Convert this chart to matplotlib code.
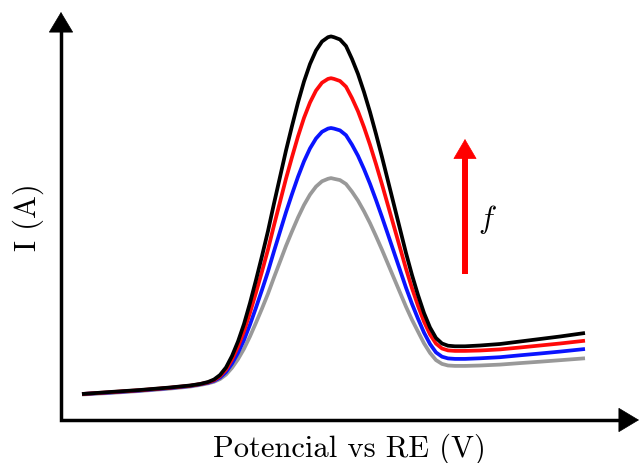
import matplotlib
matplotlib.use("Agg")
import matplotlib.pyplot as plt

plt.rcParams["mathtext.fontset"] = "cm"

# Applied potential (V) shared by all voltammograms
potential = [
    -0.400, -0.344, -0.284, -0.224, -0.184, -0.164, -0.148, -0.136, -0.124, -0.112,
    -0.100, -0.088, -0.076, -0.064, -0.052, -0.040, -0.028, -0.016, -0.004, 0.008,
    0.020, 0.032, 0.044, 0.056, 0.068, 0.080, 0.092, 0.098, 0.104, 0.116, 0.128,
    0.140, 0.152, 0.164, 0.176, 0.188, 0.200, 0.212, 0.224, 0.236, 0.248,
    0.260, 0.272, 0.284, 0.296, 0.308, 0.320, 0.332, 0.346, 0.366, 0.396,
    0.436, 0.476, 0.516, 0.556, 0.606,
]

# Current (arbitrary units), one series per frequency, lowest to highest
current_gray = [
    -0.5, 1.0, 3.0, 5.4, 7.4, 9.0, 10.6, 12.2, 14.9, 19.4,
    26.2, 34.8, 45.2, 57.6, 71.3, 85.5, 100.3, 116.6, 132.3, 148.1,
    162.6, 176.5, 189.0, 199.4, 207.4, 212.7, 215.2, 215.9, 215.2, 213.9, 210.0,
    202.3, 193.4, 182.7, 170.9, 157.8, 144.2, 130.0, 115.7, 101.5, 87.3,
    74.2, 62.4, 50.7, 41.1, 33.9, 30.1, 28.5, 28.1, 28.1, 28.5,
    29.4, 30.9, 32.3, 33.8, 35.7,
]
current_blue = [
    0.0, 1.5, 3.5, 6.0, 8.0, 9.7, 11.2, 13.1, 16.4, 21.9,
    30.4, 41.1, 54.0, 69.4, 86.4, 104.1, 122.5, 142.8, 162.3, 181.8,
    199.9, 217.2, 232.7, 245.6, 255.5, 262.2, 265.4, 266.0, 265.4, 263.6, 258.8,
    249.3, 238.2, 224.9, 210.2, 194.0, 177.0, 159.4, 141.7, 124.0, 106.3,
    90.1, 75.3, 61.4, 50.0, 41.6, 37.3, 35.6, 35.1, 35.1, 35.7,
    36.8, 38.7, 40.5, 42.4, 45.0,
]
current_red = [
    0.0, 1.8, 3.8, 6.3, 8.3, 9.9, 11.6, 13.8, 17.8, 24.4,
    34.5, 47.3, 62.7, 81.2, 101.4, 122.5, 144.5, 168.7, 192.0, 215.4,
    236.9, 257.6, 276.1, 291.5, 303.4, 311.3, 315.1, 315.8, 315.1, 313.0, 307.3,
    295.9, 282.7, 266.8, 249.2, 229.9, 209.6, 188.5, 167.4, 146.3, 125.2,
    105.8, 88.2, 72.4, 59.6, 50.4, 45.5, 43.6, 43.1, 43.1, 43.5,
    44.6, 46.5, 48.5, 50.5, 53.3,
]
current_black = [
    0.0, 2.0, 4.0, 6.5, 8.5, 10.0, 12.0, 14.5, 19.0, 26.5,
    38.0, 52.5, 70.0, 91.0, 114.0, 138.0, 163.0, 190.5, 217.0, 243.5,
    268.0, 291.5, 312.5, 330.0, 343.5, 352.5, 356.8, 357.6, 356.8, 354.5, 348.0,
    335.0, 320.0, 302.0, 282.0, 260.0, 237.0, 213.0, 189.0, 165.0, 141.0,
    119.0, 99.0, 81.0, 66.5, 56.0, 50.5, 48.3, 47.7, 47.7, 48.5,
    50.0, 52.5, 55.0, 57.5, 61.0,
]

series = [
    (current_gray, "#999999"),
    (current_blue, "#0a14ff"),
    (current_red, "#ff0a0a"),
    (current_black, "#000000"),
]

# Frequency arrow: potential position and current span
arrow_potential = 0.366
arrow_current = (120, 255)

fig = plt.figure(figsize=(6.39, 4.64), dpi=100)
ax = fig.add_axes([61 / 639, 43 / 464, 578 / 639, 408 / 464])
ax.set_xlim(-0.442, 0.714)
ax.set_ylim(-26, 382)
for side in ax.spines.values():
    side.set_visible(False)
ax.set_xticks([])
ax.set_yticks([])

for values, color in series:
    ax.plot(potential, values, color=color, lw=2.7, solid_capstyle="butt",
            solid_joinstyle="round")

# Axes drawn as arrows: lines plus filled heads
ax.plot([0, 0, 0.98], [0.97, 0, 0], transform=ax.transAxes, color="k",
        lw=2.5, clip_on=False, solid_joinstyle="miter")
head = "-|>,head_length=0.5,head_width=0.3"
for tip, tail in (((1.0, 0), (0.97, 0)), ((0, 1.0), (0, 0.97))):
    ax.annotate("", xy=tip, xytext=tail, xycoords="axes fraction",
                arrowprops=dict(arrowstyle=head, color="k", lw=0.5,
                                mutation_scale=28, shrinkA=0, shrinkB=0,
                                joinstyle="miter"),
                annotation_clip=False)

# Increasing-frequency arrow: shaft and head
ax.plot([arrow_potential, arrow_potential],
        [arrow_current[0], arrow_current[1] - 15],
        color="#ff0000", lw=4.3, solid_capstyle="butt")
ax.annotate("", xy=(arrow_potential, arrow_current[1]),
            xytext=(arrow_potential, arrow_current[1] - 20),
            arrowprops=dict(arrowstyle="-|>,head_length=0.68,head_width=0.4",
                            color="#ff0000", lw=0.5, mutation_scale=20,
                            shrinkA=0, shrinkB=0, joinstyle="miter"))
fig.text(487 / 639, (464 - 220) / 464, r"$f$", fontsize=22,
         ha="center", va="center")

fig.text(349 / 639, (464 - 457) / 464, "Potencial vs RE (V)",
         family="cmr10", fontsize=22, ha="center", va="baseline")
fig.text(28 / 639, (464 - 217.5) / 464, "I (A)", family="cmr10",
         fontsize=22, rotation=90, ha="center", va="center")

fig.savefig("out.png", dpi=100)
